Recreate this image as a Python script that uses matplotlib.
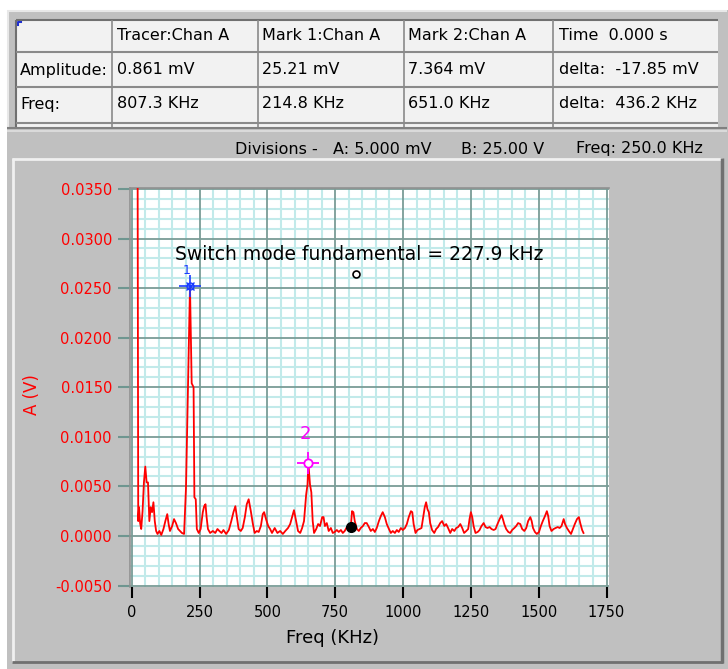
import numpy as np
import matplotlib
matplotlib.use("Agg")
import matplotlib.pyplot as plt
from matplotlib.patches import Rectangle
from matplotlib.ticker import MultipleLocator

# spectrum trace (kHz, mV)
freq_khz = [
    21, 24, 27, 31, 35, 40, 45, 50, 55, 60, 65, 70, 75, 80, 85, 90, 95, 102, 109, 117,
    124, 131, 136, 141, 149, 156, 163, 171, 178, 185, 193, 200, 209, 214.8, 221, 228, 231, 236, 240, 247,
    254, 262, 267, 272, 276, 281, 289, 299, 308, 316, 323, 331, 338, 348, 358, 367, 375, 382, 387, 394,
    402, 409, 417, 424, 431, 439, 446, 453, 461, 468, 476, 483, 488, 495, 503, 510, 517, 527, 537, 547,
    557, 566, 576, 584, 591, 598, 606, 613, 621, 628, 635, 643, 648, 651, 657, 662, 667, 672, 680, 687,
    694, 702, 707, 712, 719, 726, 734, 741, 748, 756, 763, 771, 778, 785, 793, 800, 807.3, 812, 817, 822,
    830, 837, 844, 852, 859, 866, 874, 881, 889, 896, 903, 911, 918, 925, 933, 940, 948, 955, 962, 970,
    977, 984, 992, 999, 1007, 1014, 1021, 1029, 1034, 1039, 1046, 1053, 1061, 1068, 1073, 1080, 1085, 1090, 1095, 1100,
    1107, 1115, 1122, 1129, 1137, 1144, 1152, 1159, 1166, 1174, 1181, 1189, 1196, 1203, 1211, 1218, 1225, 1233, 1240, 1245,
    1250, 1255, 1260, 1267, 1275, 1282, 1289, 1297, 1304, 1311, 1319, 1326, 1334, 1341, 1348, 1356, 1363, 1368, 1373, 1380,
    1388, 1395, 1402, 1410, 1417, 1424, 1432, 1439, 1447, 1454, 1461, 1469, 1474, 1479, 1486, 1493, 1501, 1508, 1515, 1523,
    1530, 1535, 1540, 1547, 1555, 1562, 1570, 1577, 1584, 1592, 1597, 1604, 1611, 1619, 1626, 1633, 1641, 1648, 1653, 1660,
    1665,
]
amp_mv = [
    50.0, 1.5, 2.9, 1.3, 0.7, 2.5, 5.4, 7.0, 5.4, 5.4, 1.5, 2.9, 2.4, 3.4, 1.5, 0.5, 0.2, 0.5, 0.1, 0.7,
    1.5, 2.2, 1.2, 0.5, 1.0, 1.7, 1.3, 0.7, 0.5, 0.3, 0.2, 4.8, 17.0, 25.21, 15.4, 15.0, 3.9, 3.7, 0.7, 0.3,
    0.7, 2.4, 3.0, 3.2, 1.9, 0.7, 0.3, 0.5, 0.3, 0.7, 0.5, 0.3, 0.6, 0.2, 0.6, 1.5, 2.4, 3.0, 2.0, 0.7,
    0.5, 0.8, 1.9, 3.2, 3.7, 2.5, 1.3, 0.3, 0.5, 0.4, 1.0, 2.2, 2.4, 1.7, 1.0, 0.7, 0.3, 0.8, 0.3, 0.5,
    0.2, 0.5, 0.8, 1.2, 1.9, 2.6, 1.5, 0.5, 0.3, 0.8, 1.5, 4.2, 5.2, 7.364, 5.2, 4.4, 1.5, 0.3, 0.7, 1.2,
    1.0, 1.9, 1.9, 1.0, 1.3, 0.5, 0.8, 0.3, 0.4, 0.6, 0.4, 0.6, 0.3, 0.5, 0.9, 1.0, 0.861, 2.5, 2.4, 1.5,
    0.7, 0.5, 0.8, 1.0, 1.3, 1.3, 0.9, 0.5, 0.7, 0.4, 0.8, 1.5, 2.0, 2.4, 1.9, 1.2, 0.7, 0.3, 0.5, 0.3,
    0.6, 0.4, 0.8, 0.6, 0.8, 1.2, 1.9, 2.5, 2.4, 1.2, 0.3, 0.6, 0.7, 0.8, 1.7, 2.9, 3.4, 2.7, 2.4, 1.3,
    0.6, 0.3, 0.7, 0.9, 1.3, 1.5, 1.0, 1.2, 0.8, 0.3, 0.7, 0.5, 0.8, 0.9, 1.2, 0.8, 0.3, 0.5, 0.7, 1.7,
    2.4, 1.9, 1.0, 0.3, 0.4, 0.6, 1.0, 1.3, 0.9, 0.8, 0.9, 0.7, 0.6, 0.7, 1.2, 1.7, 2.1, 1.7, 1.2, 0.7,
    0.4, 0.3, 0.6, 0.8, 1.0, 1.3, 1.2, 0.7, 0.5, 0.8, 1.5, 1.9, 1.5, 0.8, 0.4, 0.2, 0.4, 1.0, 1.5, 2.0,
    2.5, 2.0, 1.0, 0.5, 0.7, 0.8, 0.9, 0.8, 1.0, 1.7, 1.2, 0.8, 0.5, 0.2, 0.7, 1.2, 1.7, 1.9, 1.3, 0.6,
    0.3,
]

# markers (kHz, V)
tracer = (807.3, 0.000861)
mark1 = (214.8, 0.02521)
mark2 = (651.0, 0.007364)

table_header = ["", "Tracer:Chan A", "Mark 1:Chan A", "Mark 2:Chan A", "Time  0.000 s"]
table_amp = ["Amplitude:", "0.861 mV", "25.21 mV", "7.364 mV", "delta:  -17.85 mV"]
table_freq = ["Freq:", "807.3 KHz", "214.8 KHz", "651.0 KHz", "delta:  436.2 KHz"]
divisions_parts = ["Divisions -", "A: 5.000 mV", "B: 25.00 V", "Freq: 250.0 KHz"]
note_text = "Switch mode fundamental = 227.9 kHz"

GRAY = "#c0c0c0"
W, H = 728, 669

plt.rcParams['font.family'] = ['DejaVu Sans']

fig = plt.figure(figsize=(W / 100, H / 100), dpi=100)
fig.patch.set_facecolor("white")

# background "window" drawn in pixel coords
bg = fig.add_axes([0, 0, 1, 1])
bg.set_xlim(0, W)
bg.set_ylim(H, 0)
bg.axis("off")

def rect(x0, y0, x1, y1, **kw):
    bg.add_patch(Rectangle((x0, y0), x1 - x0, y1 - y0, **kw))

def hline(x0, x1, y, c, lw=1.0):
    bg.plot([x0, x1], [y, y], color=c, lw=lw, solid_capstyle="butt")

def vline(x, y0, y1, c, lw=1.0):
    bg.plot([x, x], [y0, y1], color=c, lw=lw, solid_capstyle="butt")

rect(7, 10, W, H, facecolor=GRAY, edgecolor="none")

# table frame
hline(7, 727, 11, "#e8e8e8", 1.5)
vline(8, 10, 128, "#e8e8e8", 1.5)
rect(16, 20, 718, 127, facecolor="#f2f2f2", edgecolor="none")
hline(16, 718, 20, "#707070", 1.5)
vline(16, 20, 127, "#707070", 1.5)
hline(7, 727, 128, "#808080", 1.5)
hline(7, 727, 130.5, "#e0e0e0", 1.2)
for y in [52, 87, 123]:
    hline(16, 718, y, "#8a8a8a", 1.5)
for x in [112, 258, 404, 553]:
    vline(x, 20, 127, "#8a8a8a", 1.2)
bg.plot([17.5, 17.5, 21], [25, 21.5, 21.5], color="#2030d0", lw=1.5)

col_x = [20, 117, 262, 408, 559]
for row_y, row in [(36, table_header), (70, table_amp), (104, table_freq)]:
    for cx, txt in zip(col_x, row):
        bg.text(cx, row_y, txt, fontsize=11.5, va="center", ha="left", color="black")

for px, txt in zip([235, 333, 461, 576], divisions_parts):
    bg.text(px, 149, txt, fontsize=11.5, va="center", ha="left", color="black")

# raised chart panel
hline(12, 722, 159, "#f0f0f0", 2)
vline(13, 158, 662, "#f0f0f0", 2)
hline(12, 723, 662, "#707070", 2)
vline(722, 158, 663, "#707070", 2.5)

# plot area
ax_l, ax_t, ax_r, ax_b = 130, 188, 609, 587
ax = fig.add_axes([ax_l / W, 1 - ax_b / H, (ax_r - ax_l) / W, (ax_b - ax_t) / H])
ax.set_facecolor("white")

f = np.array(freq_khz)
a = np.array(amp_mv) / 1000.0
ax.plot(f, a, color="#ff0000", lw=1.3, zorder=3)

ax.set_xlim(-6.3, 1759)
ax.set_ylim(-0.00515, 0.0351)
ax.xaxis.set_major_locator(MultipleLocator(250))
ax.xaxis.set_minor_locator(MultipleLocator(50))
ax.yaxis.set_major_locator(MultipleLocator(0.005))
ax.yaxis.set_minor_locator(MultipleLocator(0.001))
ax.grid(which="minor", color="#c2eaea", lw=1.5)
ax.set_axisbelow(True)
# major grid on top of the minor one
for v in ax.xaxis.get_majorticklocs():
    ax.axvline(v, color="#7a9c96", lw=1.3, zorder=1)
for v in ax.yaxis.get_majorticklocs():
    ax.axhline(v, color="#7a9c96", lw=1.3, zorder=1)

ax.yaxis.set_major_formatter(matplotlib.ticker.FuncFormatter(lambda v, p: "%.4f" % v))
ax.tick_params(axis="y", which="major", colors="#6e9690", length=9, width=1.5,
               labelcolor="red", labelsize=10.5, pad=4)
ax.tick_params(axis="x", which="major", colors="black", length=8, width=1.5,
               labelsize=10.5, pad=5)
ax.tick_params(which="minor", length=0)

for s in ["right", "bottom"]:
    ax.spines[s].set_visible(False)
for s in ["left", "top"]:
    ax.spines[s].set_color("#909090")
    ax.spines[s].set_linewidth(1.2)

ax.set_xlabel("Freq (KHz)", fontsize=13, color="black")
ax.xaxis.set_label_coords((332 - ax_l) / (ax_r - ax_l), -(629 - ax_b) / (ax_b - ax_t), transform=ax.transAxes)
ax.set_ylabel("A (V)", fontsize=12, color="red")
ax.yaxis.set_label_coords(-(ax_l - 41) / (ax_r - ax_l), (ax_b - 395) / (ax_b - ax_t), transform=ax.transAxes)

# annotation and markers
ax.text(160, 0.02838, note_text, fontsize=13.5, va="center", ha="left", color="black", zorder=6)
ax.plot(827, 0.02646, marker="o", ms=5, mfc="white", mec="black", mew=1.2, zorder=6)

ax.plot(*mark1, marker="+", ms=16, mec="#1a3cff", mew=1.2, zorder=5)
ax.plot(*mark1, marker="x", ms=6, mec="#1a3cff", mew=1.0, zorder=5)
ax.plot(*mark1, marker="o", ms=5, mfc="none", mec="#1a3cff", mew=1.0, zorder=5)
ax.text(204, 0.0268, "1", fontsize=9, color="#1a3cff", ha="center", va="center", zorder=5)

ax.plot(*mark2, marker="+", ms=16, mec="#ff00ff", mew=1.3, zorder=5)
ax.plot(*mark2, marker="o", ms=6, mfc="white", mec="#ff00ff", mew=1.3, zorder=5)
ax.text(639, 0.0103, "2", fontsize=13, color="#ff00ff", ha="center", va="center", zorder=5)

ax.plot(*tracer, marker="o", ms=7, color="black", zorder=6)

fig.savefig("out.png", dpi=100, facecolor=fig.get_facecolor())
